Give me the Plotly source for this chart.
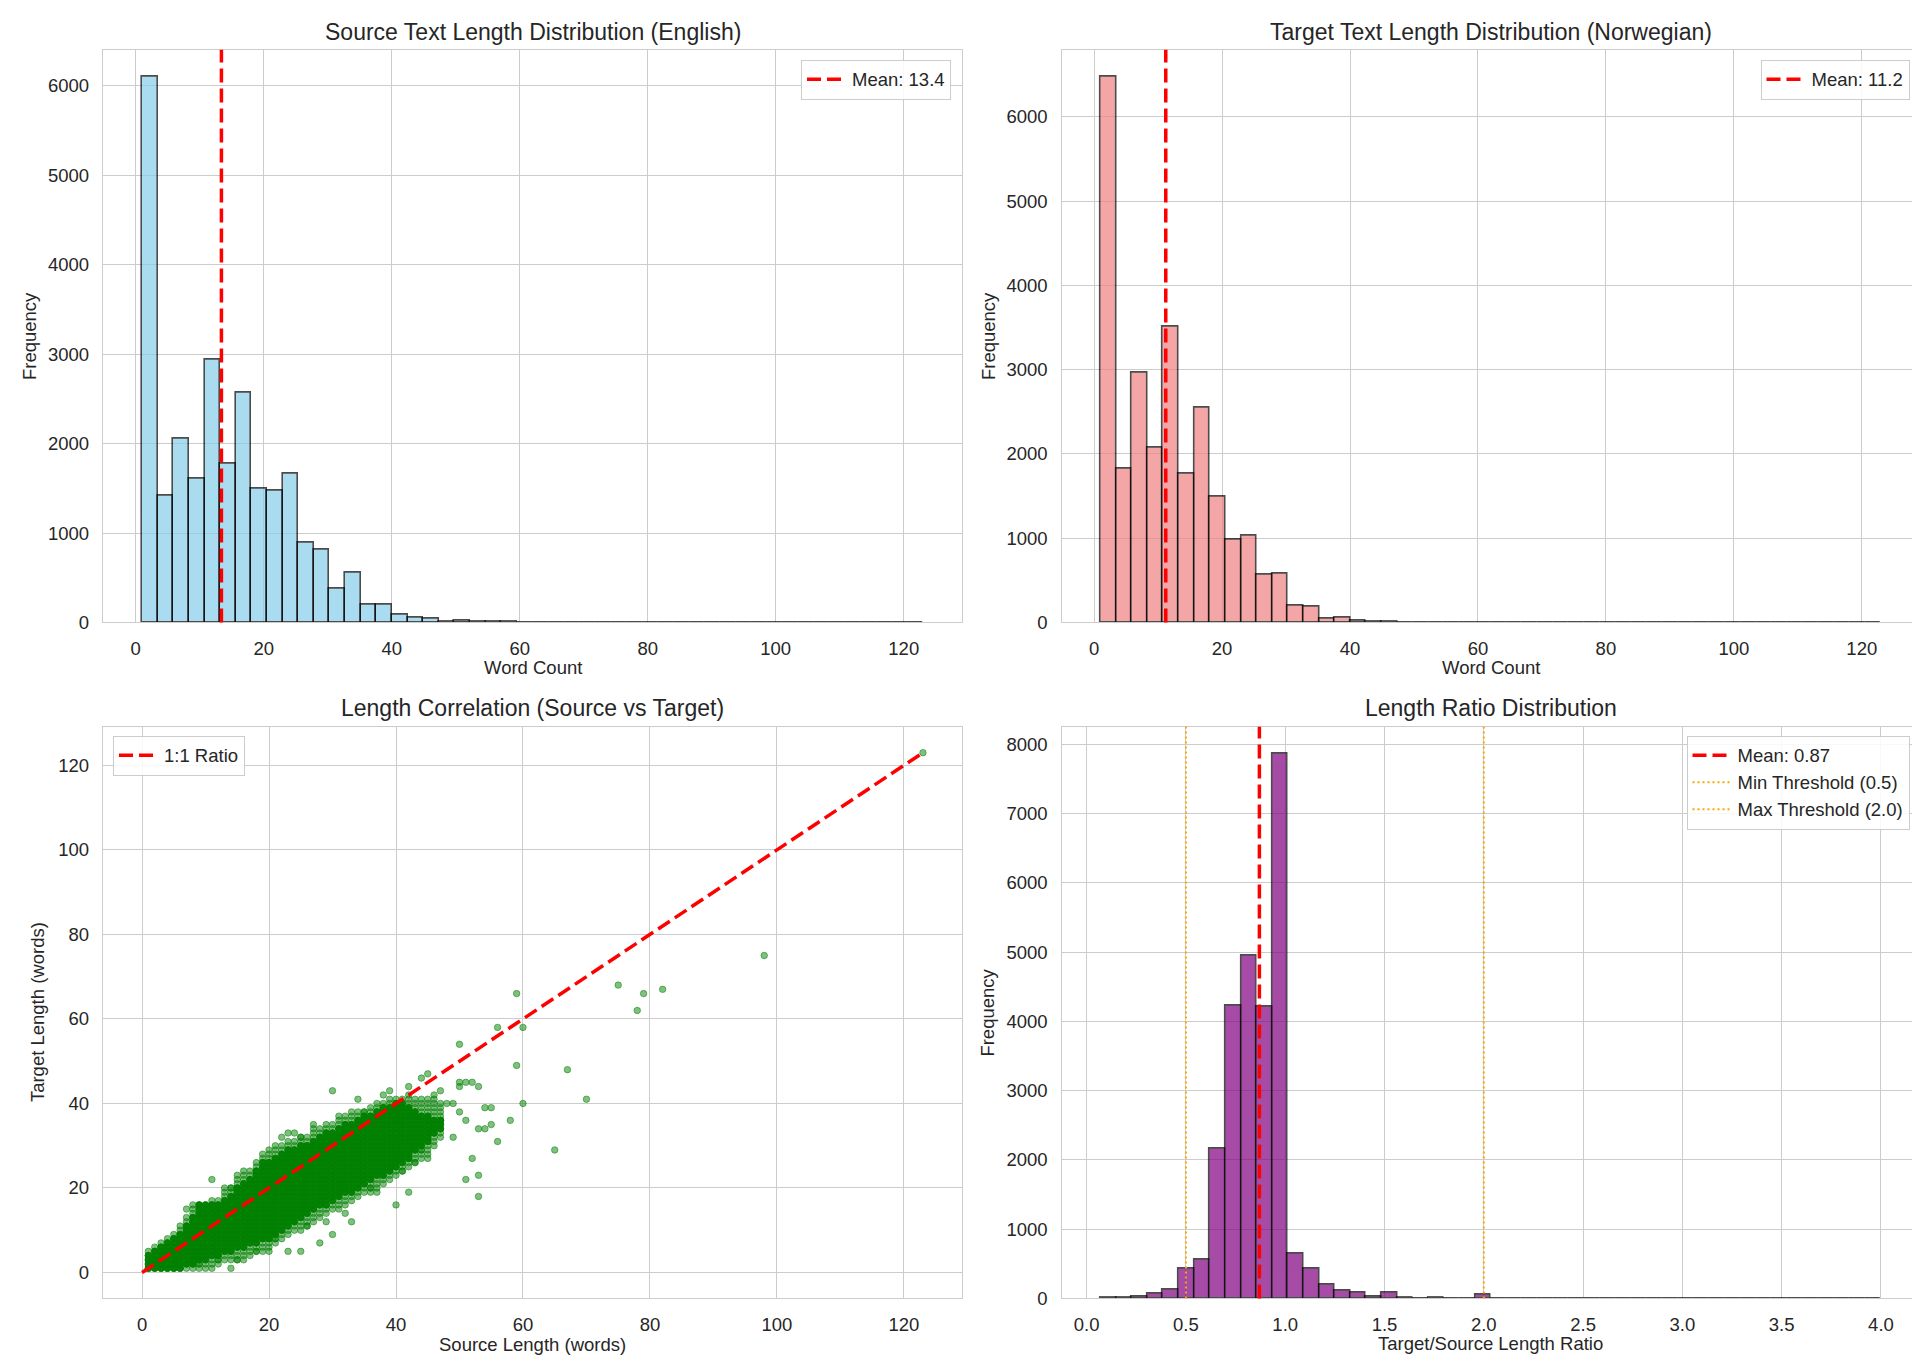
import numpy as np
import plotly.graph_objects as go

# ---- source (English) word-count histogram: 50 bins between min and max length
src_min, src_max = 1, 123
src_counts = [6100, 1418, 2052, 1608, 2943, 1779, 2568, 1501, 1477, 1667,
              890, 811, 383, 553, 202, 195, 84, 50, 42, 11,
              22, 11, 6, 4, 3, 0, 2, 1, 2, 0,
              1, 2, 0, 1, 0, 0, 0, 0, 0, 1,
              0, 0, 0, 0, 0, 0, 0, 0, 0, 1]
src_mean = 13.4

# ---- target (Norwegian) word-count histogram
tgt_min, tgt_max = 1, 123
tgt_counts = [6472, 1829, 2961, 2072, 3504, 1767, 2548, 1493, 984, 1035,
              567, 580, 199, 187, 48, 60, 16, 8, 8, 3,
              2, 2, 0, 2, 0, 2, 1, 2, 0, 0,
              1, 0, 0, 0, 0, 0, 0, 0, 0, 0,
              0, 0, 0, 0, 0, 0, 0, 0, 0, 1]
tgt_mean = 11.2

# ---- target/source length ratio histogram
ratio_min, ratio_max = 0.07, 4.0
ratio_counts = [5, 15, 24, 68, 126, 435, 556, 2166, 4232, 4942,
                4207, 7860, 650, 433, 195, 107, 78, 29, 83, 15,
                2, 10, 1, 0, 58, 0, 0, 0, 1, 0,
                0, 1, 0, 0, 0, 0, 0, 1, 0, 0,
                0, 0, 0, 0, 0, 0, 0, 0, 0, 1]
ratio_mean = 0.87
min_threshold = 0.5
max_threshold = 2.0

# ---- scatter: source lengths 1..47 and the target-length spans seen at each
band_src = list(range(1, 48))
# solid core (heavily overplotted)
core_lo = [1, 1, 1, 1, 1, 1, 2, 2, 3, 3, 4, 4, 5, 5, 6, 6, 7, 7, 8, 8,
           9, 10, 11, 12, 13, 14, 15, 16, 16, 17, 18, 19, 19, 20, 21, 22, 23, 23, 24, 25,
           26, 27, 29, 30, 31, 33, 34]
core_hi = [4, 5, 6, 7, 8, 9, 11, 13, 16, 16, 16, 16, 17, 18, 20, 21, 22, 24, 26, 26,
           27, 28, 29, 29, 30, 30, 31, 32, 33, 33, 34, 35, 35, 36, 37, 37, 38, 39, 39, 40,
           40, 39, 38, 37, 37, 36, 36]
# lighter halo around the core
halo_lo = [1, 1, 1, 1, 1, 1, 1, 1, 1, 2, 2, 2, 3, 3, 3, 4, 4, 5, 5, 6,
           7, 8, 9, 10, 10, 11, 12, 13, 14, 15, 15, 16, 17, 18, 19, 19, 20, 21, 22, 23,
           24, 25, 26, 27, 28, 30, 32]
halo_hi = [5, 6, 7, 8, 9, 11, 13, 15, 16, 16, 17, 17, 19, 20, 22, 23, 24, 26, 27, 28,
           29, 30, 31, 31, 32, 32, 33, 34, 35, 35, 36, 37, 37, 38, 38, 39, 40, 40, 41, 41,
           41, 42, 41, 41, 41, 40, 40]

# ---- scatter: sparse fringe and outliers
fringe_src = [7, 8, 10, 11, 14, 11, 13, 14, 15, 16, 19, 20, 21, 22, 23, 24, 25, 27, 27, 30,
              34, 33, 35, 38, 39, 42, 44, 45, 46, 47, 50, 50, 51, 52, 53, 49, 50, 51, 54, 55,
              53, 54, 55, 58, 56, 49, 52, 51, 53, 53, 42, 40, 37, 45, 43, 33, 30, 28, 25, 23,
              21, 18, 16, 15, 59, 56, 60, 50, 59, 67, 70, 60, 65, 75, 79, 82, 78, 98, 123,
              48, 47, 46, 44, 41, 36, 32, 29, 26, 12, 9, 20, 31]
fringe_tgt = [15, 16, 1, 1, 1, 22, 20, 20, 23, 24, 28, 29, 30, 32, 33, 33, 32, 35, 34, 43,
              41, 38, 38, 42, 43, 44, 46, 47, 42, 43, 45, 44, 45, 45, 44, 40, 38, 36, 39, 39,
              34, 34, 35, 36, 31, 32, 27, 22, 23, 18, 19, 16, 19, 27, 26, 12, 9, 7, 5, 5,
              8, 5, 3, 3, 66, 58, 58, 54, 49, 48, 41, 40, 29, 68, 66, 67, 62, 75, 123,
              40, 36, 41, 29, 24, 20, 14, 12, 11, 3, 2, 5, 37]

TEXT = "#262626"
GRID = "#cccccc"
FONT = "Liberation Sans, Arial, sans-serif"
W, H = 1920, 1366


def px_x(v):
    return v / W


def px_y(v):
    return 1 - v / H


def hist_bars(counts, lo, hi, fill, xa, ya):
    edges = np.linspace(lo, hi, len(counts) + 1)
    centers = (edges[:-1] + edges[1:]) / 2
    return go.Bar(
        x=centers, y=counts, width=edges[1] - edges[0],
        marker=dict(color=fill, opacity=0.7, line=dict(color="black", width=1.6)),
        showlegend=False, xaxis=xa, yaxis=ya, hoverinfo="x+y",
    )


def axis(domain, rng, dtick, anchor, fmt=None):
    d = dict(domain=domain, range=rng, dtick=dtick, tick0=0, anchor=anchor,
             showgrid=True, gridcolor=GRID, gridwidth=1.4,
             showline=True, linecolor=GRID, linewidth=1.4, mirror=True, zeroline=False,
             ticks="outside", ticklen=9, tickcolor="rgba(0,0,0,0)",
             tickfont=dict(size=18.5, color=TEXT, family=FONT))
    if fmt:
        d["tickformat"] = fmt
    return d


def pad(lo, hi):
    m = (hi - lo) * 0.05
    return [lo - m, hi + m]


def band_points(src, lo, hi):
    xs, ys = [], []
    for s, a, b in zip(src, lo, hi):
        for t in range(a, b + 1):
            xs.append(s)
            ys.append(t)
    return xs, ys


fig = go.Figure()
fig.add_trace(hist_bars(src_counts, src_min, src_max, "skyblue", "x", "y"))
fig.add_trace(hist_bars(tgt_counts, tgt_min, tgt_max, "lightcoral", "x2", "y2"))
fig.add_trace(hist_bars(ratio_counts, ratio_min, ratio_max, "purple", "x4", "y4"))

# scatter points: halo + fringe (alpha 0.5), then the overplotted core
hx, hy = band_points(band_src, halo_lo, halo_hi)
cx, cy = band_points(band_src, core_lo, core_hi)
light = dict(size=6.5, color="rgba(0,128,0,0.5)", line=dict(color="rgba(0,128,0,0.5)", width=1))
fig.add_trace(go.Scatter(x=hx + fringe_src, y=hy + fringe_tgt, mode="markers",
                         xaxis="x3", yaxis="y3", showlegend=False, marker=light))
fig.add_trace(go.Scatter(x=cx, y=cy, mode="markers", xaxis="x3", yaxis="y3", showlegend=False,
                         marker=dict(size=6.5, color="rgba(0,128,0,0.95)",
                                     line=dict(color="rgba(0,128,0,0.95)", width=1))))
max_len = max(max(fringe_src), max(fringe_tgt))
fig.add_trace(go.Scatter(
    x=[0, max_len], y=[0, max_len], mode="lines", xaxis="x3", yaxis="y3",
    line=dict(color="red", width=3.5, dash="14px,6px"), name="1:1 Ratio", legend="legend3",
))

# vertical reference lines
shapes = []


def vline(x, xa, color, width, dash, name, legend):
    shapes.append(dict(type="line", xref=xa, yref=f"{xa.replace('x', 'y')} domain",
                       x0=x, x1=x, y0=0, y1=1, line=dict(color=color, width=width, dash=dash),
                       showlegend=True, name=name, legend=legend))


vline(src_mean, "x", "red", 3.5, "14px,6px", f"Mean: {src_mean:.1f}", "legend")
vline(tgt_mean, "x2", "red", 3.5, "14px,6px", f"Mean: {tgt_mean:.1f}", "legend2")
vline(ratio_mean, "x4", "red", 3.5, "14px,6px", f"Mean: {ratio_mean:.2f}", "legend4")
vline(min_threshold, "x4", "orange", 2, "2px,3px", f"Min Threshold ({min_threshold})", "legend4")
vline(max_threshold, "x4", "orange", 2, "2px,3px", f"Max Threshold ({max_threshold})", "legend4")

left_dom = [px_x(95), px_x(954)]
right_dom = [px_x(1053.5), px_x(1912)]
top_dom = [px_y(619), px_y(42)]
bot_dom = [px_y(1300), px_y(724)]

ann = []


def text(x, y, s, size=18.5, angle=0):
    ann.append(dict(x=x, y=y, xref="paper", yref="paper", text=s, showarrow=False,
                    xanchor="center", yanchor="middle", textangle=angle,
                    font=dict(size=size, color=TEXT, family=FONT)))


lc = px_x((95 + 954) / 2)
rc = px_x((1053.5 + 1912) / 2)
text(lc, px_y(24), "Source Text Length Distribution (English)", 23)
text(rc, px_y(24), "Target Text Length Distribution (Norwegian)", 23)
text(lc, px_y(705), "Length Correlation (Source vs Target)", 23)
text(rc, px_y(705), "Length Ratio Distribution", 23)
text(lc, px_y(664), "Word Count")
text(rc, px_y(664), "Word Count")
text(lc, px_y(1346), "Source Length (words)")
text(rc, px_y(1345), "Target/Source Length Ratio")
text(px_x(21), px_y(330.5), "Frequency", angle=-90)
text(px_x(980), px_y(330.5), "Frequency", angle=-90)
text(px_x(29.5), px_y(1012), "Target Length (words)", angle=-90)
text(px_x(980), px_y(1012), "Frequency", angle=-90)


def legend(x, y, xanchor):
    return dict(x=x, y=y, xref="paper", yref="paper", xanchor=xanchor, yanchor="top",
                bgcolor="rgba(255,255,255,0.85)", bordercolor=GRID, borderwidth=1,
                font=dict(size=18.5, color=TEXT, family=FONT), itemwidth=40)


fig.update_layout(
    width=W, height=H,
    margin=dict(l=0, r=0, t=0, b=0),
    paper_bgcolor="white", plot_bgcolor="white",
    font=dict(family=FONT, color=TEXT),
    bargap=0,
    xaxis=axis(left_dom, pad(src_min, src_max), 20, "y"),
    yaxis=axis(top_dom, [0, max(src_counts) * 1.05], 1000, "x"),
    xaxis2=axis(right_dom, pad(tgt_min, tgt_max), 20, "y2"),
    yaxis2=axis(top_dom, [0, max(tgt_counts) * 1.05], 1000, "x2"),
    xaxis3=axis(left_dom, pad(0, max_len), 20, "y3"),
    yaxis3=axis(bot_dom, pad(0, max_len), 20, "x3"),
    xaxis4=axis(right_dom, pad(ratio_min, ratio_max), 0.5, "y4", ".1f"),
    yaxis4=axis(bot_dom, [0, max(ratio_counts) * 1.05], 1000, "x4"),
    legend=legend(px_x(943), px_y(52), "right"),
    legend2=legend(px_x(1901.5), px_y(52), "right"),
    legend3=legend(px_x(105), px_y(733), "left"),
    legend4=legend(px_x(1901.5), px_y(733), "right"),
    shapes=shapes,
    annotations=ann,
)

fig.write_html("out.html")
